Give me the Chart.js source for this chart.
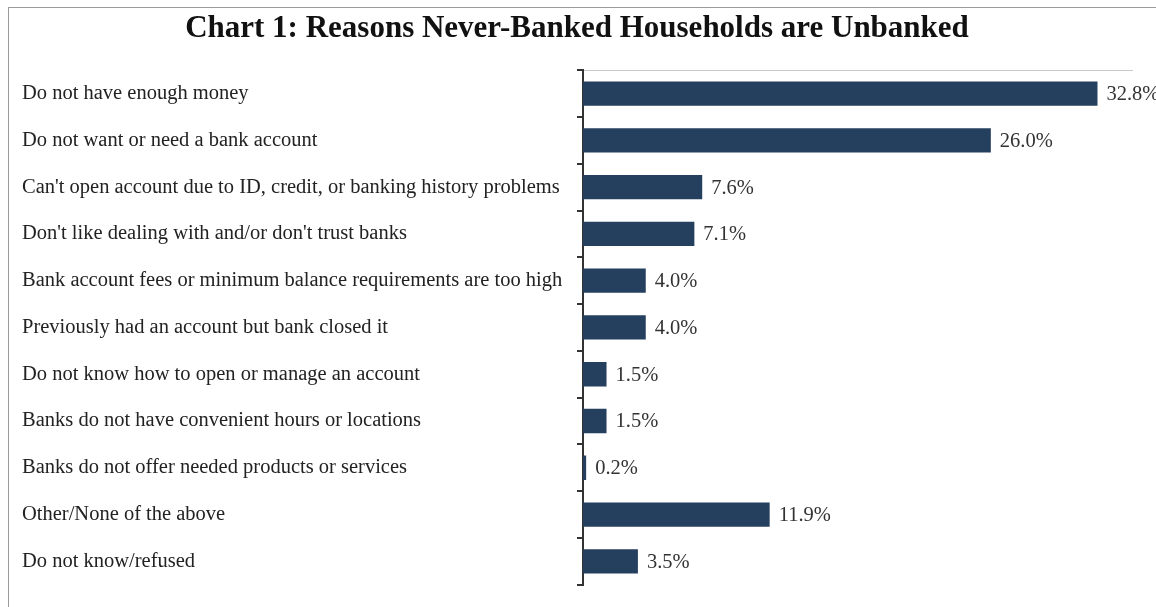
<!DOCTYPE html>
<html>
<head>
<meta charset="utf-8">
<script src="https://cdn.jsdelivr.net/npm/chart.js@4"></script>
<style>
  html, body { margin: 0; padding: 0; background: #fff; }
  #frame {
    position: absolute; left: 8px; top: 7px;
    width: 1200px; height: 700px;
    border: 1px solid #9a9a9a;
  }
  #wrap { position: absolute; left: 0; top: 0; width: 1156px; height: 607px; }
</style>
</head>
<body>
<div id="frame"></div>
<div id="wrap"><canvas id="chart-bar"></canvas></div>
<script>
const reasons = [
  "Do not have enough money",
  "Do not want or need a bank account",
  "Can't open account due to ID, credit, or banking history problems",
  "Don't like dealing with and/or don't trust banks",
  "Bank account fees or minimum balance requirements are too high",
  "Previously had an account but bank closed it",
  "Do not know how to open or manage an account",
  "Banks do not have convenient hours or locations",
  "Banks do not offer needed products or services",
  "Other/None of the above",
  "Do not know/refused"
];
const shares = [32.8, 26.0, 7.6, 7.1, 4.0, 4.0, 1.5, 1.5, 0.2, 11.9, 3.5];
const axisMax = 35;

const serif = "'Liberation Serif', 'DejaVu Serif', serif";

// percent labels just past the end of each bar
const valueLabels = {
  id: "valueLabels",
  afterDatasetsDraw(chart) {
    const ctx = chart.ctx;
    const meta = chart.getDatasetMeta(0);
    ctx.save();
    ctx.font = "20.5px " + serif;
    ctx.fillStyle = "#333";
    ctx.textBaseline = "middle";
    ctx.textAlign = "left";
    meta.data.forEach((bar, i) => {
      ctx.fillText(shares[i].toFixed(1) + "%", bar.x + 9, bar.y + 1);
    });
    ctx.restore();
  }
};

document.addEventListener("DOMContentLoaded", function () {
  const ctx = document.getElementById("chart-bar").getContext("2d");

  new Chart(ctx, {
    type: "bar",
    data: {
      labels: reasons,
      datasets: [{
        data: shares,
        backgroundColor: "#253f5f",
        borderWidth: 0,
        categoryPercentage: 0.52,
        barPercentage: 1.0
      }]
    },
    options: {
      indexAxis: "y",
      responsive: true,
      maintainAspectRatio: false,
      animation: false,
      layout: { padding: { left: 22, right: 24, top: 0, bottom: 22 } },
      plugins: {
        legend: { display: false },
        tooltip: { enabled: false },
        title: {
          display: true,
          text: "Chart 1: Reasons Never-Banked Households are Unbanked",
          color: "#111",
          font: { family: serif, size: 31, weight: "bold" },
          padding: { top: 10, bottom: 23 }
        }
      },
      scales: {
        x: {
          position: "top",
          min: 0,
          max: axisMax,
          ticks: { display: false },
          grid: { display: false, drawTicks: false },
          border: { display: true, color: "#c8c8c8", width: 1 }
        },
        y: {
          afterFit(scale) { scale.width = 561; },
          ticks: {
            crossAlign: "far",
            color: "#222",
            padding: 10,
            font: { family: serif, size: 20.5 }
          },
          grid: {
            offset: true,
            drawOnChartArea: false,
            color: "#333",
            lineWidth: 2,
            tickLength: 6
          },
          border: { display: true, color: "#333", width: 2 }
        }
      }
    },
    plugins: [valueLabels]
  });
});
</script>
</body>
</html>
